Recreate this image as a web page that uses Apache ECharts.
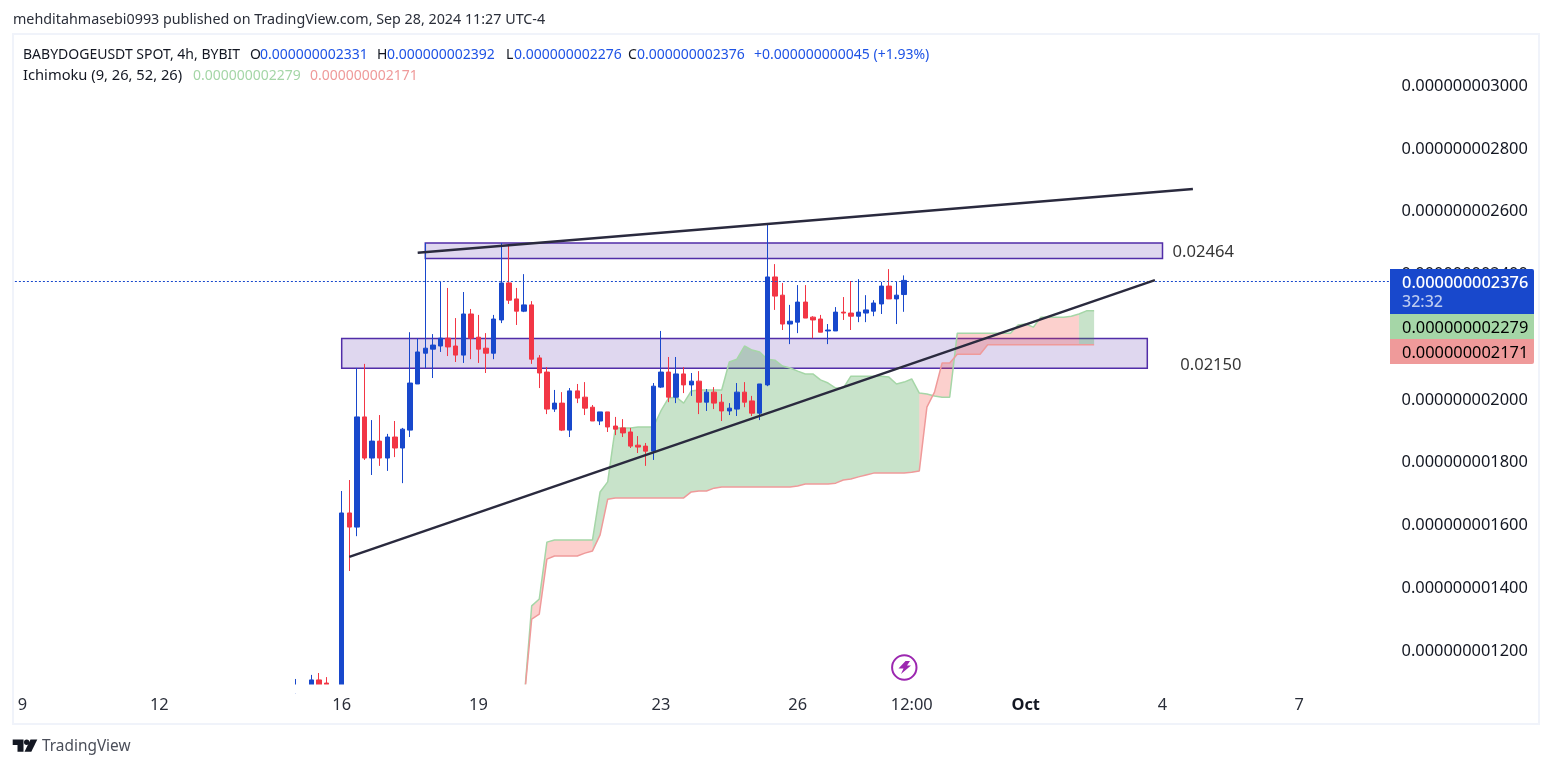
<!DOCTYPE html>
<html>
<head>
<meta charset="utf-8">
<title>BABYDOGEUSDT</title>
<style>
  html, body { margin: 0; padding: 0; background: #fff; }
  #chart { width: 1552px; height: 768px; }
</style>
<script src="https://cdn.jsdelivr.net/npm/echarts@6/dist/echarts.min.js"></script>
</head>
<body>
<div id="chart"></div>
<script>
// prices are kept in units of 1e-12, so 2376 reads 0.000000002376
const FONT = '"Noto Sans", "Open Sans", sans-serif';

const barCount = 182;
const xTickLabels = { 1: '9', 19: '12', 43: '16', 61: '19', 85: '23', 103: '26', 118: '12:00', 133: 'Oct', 151: '4', 169: '7' };
const yTicks = [1200, 1400, 1600, 1800, 2000, 2400, 2600, 2800, 3000];

// ── Candles [open, close, low, high], first one sits on bar 37 ───────────────
const candleStart = 37;
const ohlc = [
    [1070, 1085, 1060, 1106], [1070, 1080, 1060, 1085], [1085, 1103, 1080, 1119], [1103, 1085, 1080, 1125],
    [1093, 1088, 1085, 1112], [1085, 1075, 1070, 1088], [1075, 1635, 1070, 1705], [1635, 1590, 1450, 1740],
    [1590, 1941, 1561, 2097], [1941, 1810, 1804, 2110], [1810, 1864, 1756, 1931], [1864, 1810, 1785, 1947],
    [1810, 1877, 1769, 1887], [1877, 1842, 1813, 1928], [1842, 1902, 1730, 1906], [1899, 2049, 1877, 2211],
    [2046, 2148, 2046, 2192], [2144, 2160, 2097, 2495], [2157, 2170, 2065, 2205], [2167, 2192, 2148, 2371],
    [2192, 2164, 2135, 2352], [2167, 2138, 2116, 2256], [2138, 2269, 2113, 2339], [2269, 2192, 2125, 2285],
    [2195, 2157, 2113, 2266], [2160, 2144, 2081, 2208], [2144, 2253, 2125, 2266], [2250, 2368, 2240, 2495],
    [2368, 2313, 2301, 2489], [2317, 2278, 2234, 2352], [2278, 2298, 2275, 2396], [2298, 2125, 2110, 2310],
    [2129, 2081, 2033, 2138], [2084, 1966, 1950, 2100], [1966, 1985, 1957, 2027], [1985, 1899, 1896, 2020],
    [1899, 2024, 1877, 2033], [2024, 2001, 1985, 2046], [2004, 1969, 1947, 2052], [1972, 1928, 1928, 1979],
    [1928, 1957, 1915, 1957], [1957, 1909, 1893, 1957], [1912, 1902, 1883, 1941], [1906, 1890, 1877, 1934],
    [1893, 1848, 1842, 1906], [1851, 1845, 1826, 1880], [1848, 1832, 1785, 1858], [1832, 2039, 1804, 2049],
    [2036, 2084, 2033, 2215], [2084, 2004, 1988, 2132], [2004, 2078, 1985, 2132], [2078, 2043, 2017, 2100],
    [2043, 2055, 2008, 2081], [2055, 1988, 1950, 2087], [1988, 2020, 1960, 2030], [2020, 1985, 1966, 2036],
    [1988, 1960, 1928, 2014], [1960, 1969, 1947, 1985], [1966, 2020, 1944, 2049], [2020, 1988, 1972, 2052],
    [1992, 1953, 1944, 2008], [1953, 2046, 1931, 2046], [2043, 2387, 2039, 2556], [2387, 2326, 2282, 2428],
    [2329, 2237, 2218, 2368], [2237, 2246, 2173, 2298], [2243, 2307, 2208, 2361], [2307, 2256, 2256, 2361],
    [2259, 2250, 2192, 2262], [2253, 2211, 2211, 2266], [2215, 2218, 2173, 2237], [2215, 2275, 2215, 2291],
    [2275, 2272, 2250, 2323], [2272, 2262, 2218, 2374], [2262, 2275, 2243, 2380], [2272, 2282, 2243, 2329],
    [2278, 2304, 2262, 2313], [2301, 2358, 2269, 2371], [2358, 2317, 2317, 2412], [2317, 2329, 2237, 2371],
    [2331, 2376, 2276, 2392]
];

// ── Ichimoku leading spans, first value sits on bar 67 ───────────────────────
const leadStart = 67;
const leadA = [
    1039, 1339, 1361, 1542, 1549, 1549, 1549, 1549, 1549, 1549, 1702, 1734, 1906, 1906, 1906, 1909, 1909, 1909, 1960,
    2001, 2004, 1985, 2024, 2027, 2027, 2027, 2027, 2116, 2125, 2167, 2154, 2148, 2125, 2122, 2103, 2097, 2087, 2078,
    2078, 2059, 2049, 2033, 2033, 2071, 2071, 2071, 2071, 2071, 2068, 2046, 2052, 2062, 2017, 2014, 2008, 2004, 2004,
    2208, 2208, 2208, 2208, 2208, 2208, 2208, 2208, 2234, 2237, 2227, 2259, 2259, 2259, 2259, 2262, 2269, 2279, 2279
];
const leadB = [
    1039, 1297, 1313, 1488, 1498, 1498, 1498, 1498, 1507, 1514, 1565, 1679, 1683, 1683, 1683, 1683, 1683, 1683, 1683,
    1683, 1683, 1683, 1702, 1705, 1705, 1714, 1718, 1718, 1718, 1718, 1718, 1718, 1718, 1718, 1718, 1718, 1721, 1727,
    1727, 1727, 1727, 1730, 1740, 1743, 1750, 1756, 1762, 1762, 1762, 1762, 1762, 1765, 1769, 1972, 2020, 2113, 2113,
    2141, 2141, 2141, 2141, 2171, 2171, 2171, 2171, 2171, 2171, 2171, 2171, 2171, 2171, 2171, 2171, 2171, 2171, 2171
];
// the cloud changes colour on these bars [from, to, fill]
const cloudSpans = [
    [67, 76, 'rgba(244,67,54,0.25)'],
    [76, 119, 'rgba(67,160,71,0.29)'],
    [119, 140, 'rgba(244,67,54,0.25)'],
    [140, 142, 'rgba(67,160,71,0.29)']
];

// ── Drawings ─────────────────────────────────────────────────────────────────
const upperBox = [54, 151, 2495, 2446];
const lowerBox = [43, 149, 2191, 2096];
const upperTrend = [[53, 2464], [155, 2667]];
const lowerTrend = [[44, 1495], [150, 2377]];
const notes = [[152, 2466, '0.02464'], [153, 2105, '0.02150']];

const lastPrice = 2376;
const priceLineLevel = 2372; // where the dotted line sits in the picture
const header = 'mehditahmasebi0993 published on TradingView.com, Sep 28, 2024 11:27 UTC-4';

const categories = Array.from({ length: barCount }, (_, i) => String(i));
const price = v => (v / 1e12).toFixed(12);
const spanData = (arr, start) => arr.map((v, i) => [start + i, v]);

function renderCloud(params, api) {
    const from = api.value(0), to = api.value(1);
    const pts = [];
    for (let i = from; i <= to; i++) pts.push(api.coord([i, leadA[i - leadStart]]));
    for (let i = to; i >= from; i--) pts.push(api.coord([i, leadB[i - leadStart]]));
    return { type: 'polygon', shape: { points: pts }, style: { fill: cloudSpans[params.dataIndex][2] } };
}

function text(x, y, str, fill, size, weight) {
    return {
        type: 'text', x, y: y + 1, z: 101,
        style: { text: str, fill, font: `${weight || 'normal'} ${size}px ${FONT}`, textVerticalAlign: 'middle' }
    };
}

const LEGEND = '#131722', VALUE = '#1E53E5';
const graphics = [
    // candlestick clip only drops whole candles, so hide what hangs under the pane
    { type: 'rect', z: 98, shape: { x: 14, y: 684.5, width: 1376, height: 9 }, style: { fill: '#fff' } },
    { type: 'rect', z: 99, shape: { x: 13, y: 34, width: 1526, height: 690 }, style: { fill: 'none', stroke: '#F0F3FA', lineWidth: 2 } },
    text(13, 19, header, '#2A2E39', 14.3),
    text(23, 54, 'BABYDOGEUSDT SPOT, 4h, BYBIT', LEGEND, 14),
    text(250, 54, 'O', LEGEND, 14), text(260, 54, price(2331), VALUE, 14),
    text(377, 54, 'H', LEGEND, 14), text(387, 54, price(2392), VALUE, 14),
    text(506, 54, 'L', LEGEND, 14), text(514, 54, price(2276), VALUE, 14),
    text(628, 54, 'C', LEGEND, 14), text(637, 54, price(2376), VALUE, 14),
    text(754, 54, '+0.000000000045 (+1.93%)', VALUE, 14),
    text(23, 75, 'Ichimoku (9, 26, 52, 26)', LEGEND, 14.7),
    text(193, 75, price(2279), '#A5D6A7', 14),
    text(310, 75, price(2171), '#EF9A9A', 14),
    // price tags on the axis
    { type: 'rect', z: 100, shape: { x: 1390, y: 269, width: 144, height: 45, r: [0, 2, 0, 0] }, style: { fill: '#1848CC' } },
    { type: 'rect', z: 100, shape: { x: 1390, y: 314, width: 144, height: 25 }, style: { fill: '#A5D6A7' } },
    { type: 'rect', z: 100, shape: { x: 1390, y: 339, width: 144, height: 25, r: [0, 0, 2, 0] }, style: { fill: '#EF9A9A' } },
    text(1402, 282, price(lastPrice), '#fff', 16.4, 500),
    text(1402, 301, '32:32', '#BCCBF0', 16, 500),
    text(1402, 327, price(2279), '#000', 16.4),
    text(1402, 352, price(2171), '#000', 16.4),
    // lightning badge
    { type: 'circle', z: 100, shape: { cx: 904.3, cy: 667.5, r: 12.2 }, style: { fill: '#fff', stroke: '#9C27B0', lineWidth: 2 } },
    { type: 'polygon', z: 101, shape: { points: [[905.5, 661], [910, 661], [907, 665.5], [911, 665.5], [901, 674], [903.5, 668.5], [898.5, 668.5]] }, style: { fill: '#9C27B0' } },
    // TradingView mark
    { type: 'polygon', z: 100, shape: { points: [[12.7, 739.5], [23.5, 739.5], [23.5, 751.7], [17.5, 751.7], [17.5, 745], [12.7, 745]] }, style: { fill: '#131722' } },
    { type: 'circle', z: 100, shape: { cx: 26.7, cy: 742.2, r: 2.7 }, style: { fill: '#131722' } },
    { type: 'polygon', z: 100, shape: { points: [[30.5, 739.5], [37.3, 739.5], [31.3, 751.7], [24.5, 751.7]] }, style: { fill: '#131722' } },
    text(42, 746, 'TradingView', '#4A4E59', 15.4)
];

const chart = echarts.init(document.getElementById('chart'), null, { renderer: 'canvas' });
chart.setOption({
    animation: false,
    backgroundColor: '#fff',
    textStyle: { fontFamily: FONT },
    grid: { left: 14.9, top: 35, width: 1375.6, height: 649 },
    xAxis: {
        type: 'category',
        data: categories,
        boundaryGap: false,
        axisLine: { show: false },
        axisTick: { show: false },
        splitLine: { show: false },
        axisLabel: {
            interval: i => xTickLabels[i] !== undefined,
            formatter: (v, i) => i === 133 ? `{b|${xTickLabels[i]}}` : (xTickLabels[i] || ''),
            color: '#2A2E39',
            fontSize: 16.4,
            margin: 13,
            rich: { b: { color: '#131722', fontSize: 16.4, fontWeight: 'bold' } }
        }
    },
    yAxis: {
        type: 'value',
        position: 'right',
        min: 1090,
        max: 3158,
        axisLine: { show: false },
        axisTick: { show: false },
        splitLine: { show: false },
        axisLabel: {
            customValues: yTicks,
            formatter: v => `{p|${price(v)}}`,
            margin: 11,
            rich: { p: { color: '#131722', fontSize: 16.4, padding: [3, 0, 0, 0] } }
        }
    },
    graphic: graphics,
    series: [
        {
            name: 'Boxes',
            type: 'line',
            data: [],
            z: 1,
            markArea: {
                silent: true,
                itemStyle: { color: 'rgba(94,53,177,0.2)', borderColor: '#512DA8', borderWidth: 1.5 },
                data: [upperBox, lowerBox].map(b => [{ coord: [b[0], b[2]] }, { coord: [b[1], b[3]] }])
            }
        },
        {
            name: 'Cloud',
            type: 'custom',
            z: 2,
            clip: true,
            renderItem: renderCloud,
            encode: { x: [0, 1] },
            data: cloudSpans.map(s => [s[0], s[1]])
        },
        {
            name: 'Lead A',
            type: 'line',
            z: 3,
            showSymbol: false,
            data: spanData(leadA, leadStart),
            lineStyle: { color: '#A5D6A7', width: 1.5 }
        },
        {
            name: 'Lead B',
            type: 'line',
            z: 3,
            showSymbol: false,
            data: spanData(leadB, leadStart),
            lineStyle: { color: '#EF9A9A', width: 1.5 }
        },
        {
            name: 'BABYDOGEUSDT',
            type: 'candlestick',
            z: 4,
            barWidth: 5,
            clip: true,
            data: ohlc.map((c, i) => [candleStart + i, ...c]),
            encode: { x: 0, y: [1, 2, 3, 4] },
            itemStyle: { color: '#1848CC', color0: '#F23645', borderColor: '#1848CC', borderColor0: '#F23645', borderWidth: 1 },
            markLine: {
                silent: true,
                symbol: 'none',
                label: { show: false },
                lineStyle: { color: '#1848CC', type: [2, 2], width: 1 },
                data: [{ yAxis: priceLineLevel }]
            }
        },
        {
            name: 'Upper trend',
            type: 'line',
            z: 5,
            showSymbol: false,
            data: upperTrend,
            lineStyle: { color: '#2A2A3E', width: 2.5 }
        },
        {
            name: 'Lower trend',
            type: 'line',
            z: 5,
            showSymbol: false,
            data: lowerTrend,
            lineStyle: { color: '#2A2A3E', width: 2.5 }
        },
        {
            name: 'Notes',
            type: 'scatter',
            z: 6,
            symbolSize: 1,
            itemStyle: { color: 'transparent' },
            data: notes,
            label: {
                show: true,
                position: 'right',
                distance: 2,
                color: '#000',
                fontSize: 16.6,
                formatter: p => p.value[2]
            }
        }
    ]
});
</script>
</body>
</html>
